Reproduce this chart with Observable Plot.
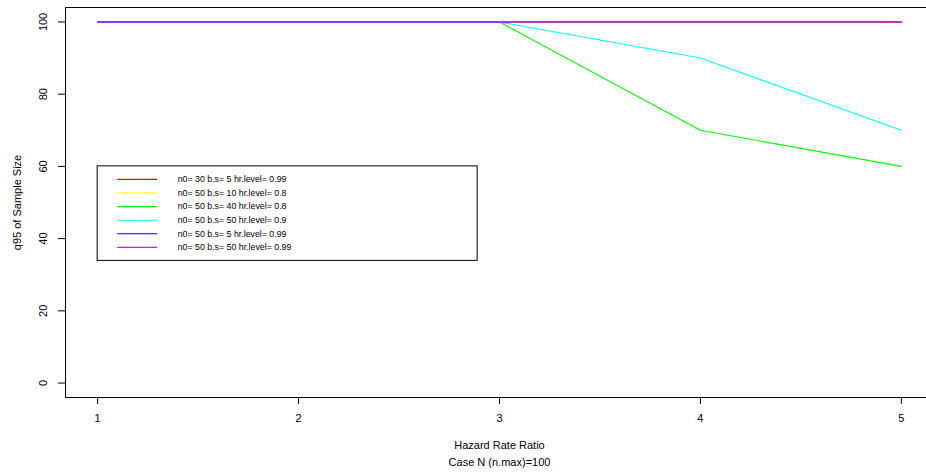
<!DOCTYPE html>
<html>
<head>
<meta charset="utf-8">
<script src="https://cdn.jsdelivr.net/npm/d3@7"></script>
<script src="https://cdn.jsdelivr.net/npm/@observablehq/plot@0.6"></script>
<style>
  html, body { margin: 0; padding: 0; background: #fff; overflow: hidden; }
  svg { font-family: "Liberation Sans", Arial, sans-serif; }
</style>
</head>
<body>
<div id="chart"></div>
<script>
// ---- data ----
const hazardRatios = [1, 2, 3, 4, 5];
const seriesLabels = [
  "n0= 30 b.s= 5 hr.level= 0.99",
  "n0= 50 b.s= 10 hr.level= 0.8",
  "n0= 50 b.s= 40 hr.level= 0.8",
  "n0= 50 b.s= 50 hr.level= 0.9",
  "n0= 50 b.s= 5 hr.level= 0.99",
  "n0= 50 b.s= 50 hr.level= 0.99"
];
const seriesColors = ["#FF0000", "#FFFF00", "#00FF00", "#00FFFF", "#0000FF", "#FF00FF"];
const q95_s1 = [100, 100, 100, 100, 100];
const q95_s2 = [100, 100, 100, 100, 100];
const q95_s3 = [100, 100, 100, 70, 60];
const q95_s4 = [100, 100, 100, 90, 70];
const q95_s5 = [100, 100, 100, 100, 100];
const q95_s6 = [100, 100, 100, 100, 100];
const xTicks = [1, 2, 3, 4, 5];
const yTicks = [0, 20, 40, 60, 80, 100];
const xTitle = "Hazard Rate Ratio";
const subTitle = "Case N (n.max)=100";
const yTitle = "q95 of Sample Size";

const allSeries = [q95_s1, q95_s2, q95_s3, q95_s4, q95_s5, q95_s6];
const rows = [];
allSeries.forEach((vals, i) => vals.forEach((v, j) => rows.push({series: i, x: hazardRatios[j], y: v})));

// ---- layout (R-style 4% axis extension) ----
const W = 926, H = 475;
const xDom = [0.84, 5.16], yDom = [-4, 104];
const xRange = [65, 933], yRange = [397, 7];
const pxX = (xRange[1] - xRange[0]) / (xDom[1] - xDom[0]);
const pxY = (yRange[0] - yRange[1]) / (yDom[1] - yDom[0]);
const xOf = px => xDom[0] + (px - xRange[0]) / pxX;
const yOf = py => yDom[0] + (yRange[0] - py) / pxY;

// legend anchored at data (1, 60), like R legend(x=1, y=60)
const legX = 1, legY = 60;
const legLeftPx = xRange[0] + (legX - xDom[0]) * pxX;
const legTopPx = yRange[0] - (legY - yDom[0]) * pxY;
const legRows = seriesLabels.map((lab, i) => ({
  i, lab, color: seriesColors[i],
  y: yOf(legTopPx + 13 + i * 13.6)
}));
const legBox = [{x1: legX, x2: xOf(legLeftPx + 380), y1: yOf(legTopPx + 94.5), y2: legY}];

const tickLen = 7;
const marks = [
  Plot.frame({stroke: "#000", strokeWidth: 1}),
  // series lines
  ...seriesColors.map((c, i) => Plot.line(rows.filter(r => r.series === i), {x: "x", y: "y", stroke: c, strokeWidth: 1.1})),
  // x axis ticks and labels
  Plot.ruleX(xTicks, {x: d => d, y1: yDom[0], y2: yOf(yRange[0] + tickLen), stroke: "#000", clip: false}),
  Plot.text(xTicks, {x: d => d, frameAnchor: "bottom", dy: 24, text: d => String(d), fontSize: 11, fill: "#000"}),
  // y axis ticks and labels
  Plot.ruleY(yTicks, {y: d => d, x1: xOf(xRange[0] - tickLen), x2: xDom[0], stroke: "#000"}),
  Plot.text(yTicks, {y: d => d, frameAnchor: "left", dx: -22, rotate: -90, text: d => String(d), fontSize: 11, fill: "#000", textAnchor: "middle", lineAnchor: "middle"}),
  // axis titles
  Plot.text([xTitle], {x: (xDom[0] + xDom[1]) / 2, frameAnchor: "bottom", dy: 51, text: d => d, fontSize: 11, fill: "#000"}),
  Plot.text([subTitle], {x: (xDom[0] + xDom[1]) / 2, frameAnchor: "bottom", dy: 68, text: d => d, fontSize: 11, fill: "#000"}),
  Plot.text([yTitle], {y: (yDom[0] + yDom[1]) / 2, frameAnchor: "left", dx: -48, rotate: -90, text: d => d, fontSize: 11, fill: "#000", textAnchor: "middle", lineAnchor: "middle"}),
  // legend
  Plot.rect(legBox, {x1: "x1", x2: "x2", y1: "y1", y2: "y2", fill: "#fff", stroke: "#000", strokeWidth: 1}),
  ...legRows.map(r => Plot.ruleY([r], {y: "y", x1: xOf(legLeftPx + 20), x2: xOf(legLeftPx + 60), stroke: r.color, strokeWidth: 1.1})),
  Plot.text(legRows, {x: xOf(legLeftPx + 80), y: "y", text: "lab", textAnchor: "start", fontSize: 8.8, letterSpacing: 0.45, fill: "#000", lineAnchor: "middle"})
];

const chart = Plot.plot({
  width: W,
  height: H,
  marginLeft: xRange[0],
  marginRight: 0,
  marginTop: yRange[1],
  marginBottom: H - yRange[0],
  x: {domain: xDom, range: xRange, axis: null},
  y: {domain: yDom, range: yRange, axis: null},
  style: {background: "#fff", color: "#000", fontFamily: "'Liberation Sans', Arial, sans-serif"},
  marks
});
document.getElementById("chart").appendChild(chart);
</script>
</body>
</html>
